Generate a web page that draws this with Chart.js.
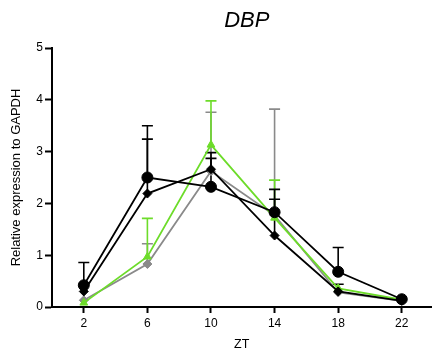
<!DOCTYPE html>
<html>
<head>
<meta charset="utf-8">
<script src="https://cdn.jsdelivr.net/npm/chart.js@4/dist/chart.umd.min.js"></script>
<style>
html,body{margin:0;padding:0;background:#fff;}
#wrap{width:438px;height:355px;position:relative;}
</style>
</head>
<body>
<div id="wrap"><canvas id="c"></canvas></div>
<script>
// ---- data ----
const timePoints = [2, 6, 10, 14, 18, 22];
const xTickValues = [2, 6, 10, 14, 18, 22];
const yTickValues = [0, 1, 2, 3, 4, 5];

const circleMeans = [0.42, 2.50, 2.32, 1.83, 0.68, 0.15];
const circleErrTop = [0.86, 3.50, 2.87, 2.27, 1.15, null];

const blackDiamondMeans = [0.30, 2.19, 2.66, 1.38, 0.30, 0.12];
const blackDiamondErrTop = [null, 3.24, 2.98, 2.08, 0.44, null];

const greenMeans = [0.08, 0.97, 3.13, 1.72, 0.36, 0.14];
const greenErrTop = [null, 1.71, 3.98, 2.45, null, null];

const grayMeans = [0.13, 0.83, 2.62, 1.77, 0.28, 0.12];
const grayErrTop = [null, 1.22, 3.76, 3.82, null, null];

const titleText = 'DBP';
const xTitle = 'ZT';
const yTitle = 'Relative expression to GAPDH';

const GREEN = '#6ddc2a';
const GRAY = '#8a8a8a';
const BLACK = '#000000';

function pts(vals){ return timePoints.map((t,i)=>({x:t, y:vals[i]})); }

const errorBarPlugin = {
  id: 'errorBars',
  beforeDatasetsDraw(chart){
    const ctx = chart.ctx;
    const xs = chart.scales.x, ys = chart.scales.y;
    chart.data.datasets.slice().reverse().forEach(ds => {
      const tops = ds.errTop;
      if (!tops) return;
      ctx.save();
      ctx.strokeStyle = ds.borderColor;
      ctx.lineWidth = 1.6;
      tops.forEach((top, i) => {
        if (top === null || top === undefined) return;
        const px = xs.getPixelForValue(timePoints[i]);
        const py0 = ys.getPixelForValue(ds.data[i].y);
        const py1 = ys.getPixelForValue(top);
        ctx.beginPath();
        ctx.moveTo(px, py0); ctx.lineTo(px, py1);
        ctx.moveTo(px - 5.5, py1); ctx.lineTo(px + 5.5, py1);
        ctx.stroke();
      });
      ctx.restore();
    });
  }
};

const titlePlugin = {
  id: 'centerTitle',
  afterDraw(chart){
    const ctx = chart.ctx;
    const a = chart.chartArea;
    ctx.save();
    ctx.fillStyle = '#000';
    ctx.font = 'italic 22px "Liberation Sans", Arial, sans-serif';
    ctx.textAlign = 'center';
    ctx.textBaseline = 'middle';
    ctx.fillText(titleText, (a.left + a.right) / 2 + 5, 21);
    ctx.restore();
  }
};

const baseFont = {family: '"Liberation Sans", Arial, sans-serif'};

new Chart(document.getElementById('c'), {
  type: 'line',
  data: {
    datasets: [
      {data: pts(circleMeans), errTop: circleErrTop, borderColor: BLACK, backgroundColor: BLACK,
       pointStyle: 'circle', pointRadius: 5.5, borderWidth: 1.8, pointBorderWidth: 1},
      {data: pts(blackDiamondMeans), errTop: blackDiamondErrTop, borderColor: BLACK, backgroundColor: BLACK,
       pointStyle: 'rectRot', pointRadius: 4.5, borderWidth: 1.8, pointBorderWidth: 1},
      {data: pts(greenMeans), errTop: greenErrTop, borderColor: GREEN, backgroundColor: GREEN,
       pointStyle: 'triangle', pointRadius: 4.5, borderWidth: 1.8, pointBorderWidth: 1},
      {data: pts(grayMeans), errTop: grayErrTop, borderColor: GRAY, backgroundColor: GRAY,
       pointStyle: 'rectRot', pointRadius: 4.5, borderWidth: 1.8, pointBorderWidth: 1}
    ]
  },
  options: {
    responsive: true,
    maintainAspectRatio: false,
    animation: false,
    layout: {padding: {top: 48, right: 0, left: 0, bottom: 0}},
    plugins: {legend: {display: false}, tooltip: {enabled: false}, title: {display: false}},
    elements: {line: {tension: 0, fill: false}},
    scales: {
      x: {
        type: 'linear', min: 0, max: 23.87,
        afterBuildTicks(s){ s.ticks = xTickValues.map(v => ({value: v})); },
        afterFit(s){ s.height = 48; },
        grid: {display: true, drawOnChartArea: false, drawTicks: true, tickLength: 6, tickWidth: 2, tickColor: BLACK},
        border: {display: true, width: 2, color: BLACK},
        ticks: {padding: 3, color: BLACK, font: Object.assign({size: 12}, baseFont), maxRotation: 0, autoSkip: false},
        title: {display: true, text: xTitle, color: BLACK, font: Object.assign({size: 12.5}, baseFont), padding: {top: 0, bottom: 2.5}}
      },
      y: {
        type: 'linear', min: 0, max: 5,
        afterBuildTicks(s){ s.ticks = yTickValues.map(v => ({value: v})); },
        afterFit(s){ s.width = 52; },
        grid: {display: true, drawOnChartArea: false, drawTicks: true, tickLength: 7, tickWidth: 2, tickColor: BLACK},
        border: {display: true, width: 2, color: BLACK},
        ticks: {padding: 2, color: BLACK, font: Object.assign({size: 12}, baseFont)},
        title: {display: true, text: yTitle, color: BLACK, font: Object.assign({size: 13}, baseFont), padding: {top: 9, bottom: 0}}
      }
    }
  },
  plugins: [errorBarPlugin, titlePlugin]
});
</script>
</body>
</html>
